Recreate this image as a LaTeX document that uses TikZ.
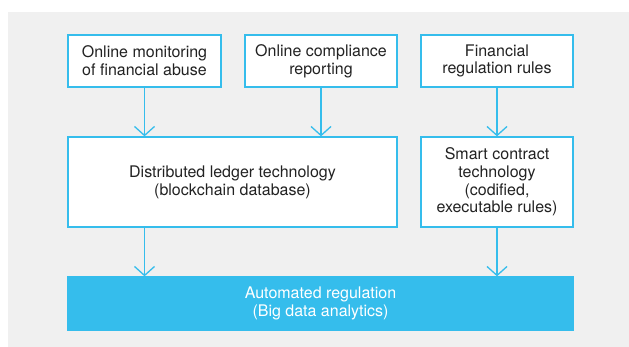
\documentclass[tikz,border=0pt]{standalone}
\usepackage{fontspec}
\setmainfont{TeX Gyre Heros}
\usetikzlibrary{arrows.meta}

\definecolor{regblue}{HTML}{35BDEC}
\definecolor{bggray}{HTML}{F0F0F0}
\definecolor{txtgray}{HTML}{222222}

\tikzset{
  regbox/.style = {draw = regblue, line width = 1.3pt, fill = white,
                   text = txtgray, align = center, inner sep = 0pt,
                   font = \fontsize{16}{17.8}\selectfont},
  regarrow/.style = {draw = regblue, line width = 1.3pt,
                     -{Straight Barb[length = 9pt, width = 20pt]}}
}

\begin{document}
\begin{tikzpicture}[x = 1pt, y = -1pt]
        \useasboundingbox (0,0) rectangle (629,347);
        \fill[white] (0,0) rectangle (629,347);
        \fill[bggray] (8,12) rectangle (629,347);

        \node[regbox, minimum width = 153pt, minimum height = 52pt] (monitor) at (144.5,61)
             {Online monitoring\\of financial abuse};
        \node[regbox, minimum width = 152pt, minimum height = 52pt] (report) at (321,61)
             {Online compliance\\reporting};
        \node[regbox, minimum width = 152pt, minimum height = 52pt] (rules) at (497,61)
             {Financial\\regulation rules};

        \node[regbox, minimum width = 329pt, minimum height = 90pt] (ledger) at (232.5,182)
             {Distributed ledger technology\\(blockchain database)};
        \node[regbox, minimum width = 152pt, minimum height = 90pt] (smart) at (497,182)
             {Smart contract\\technology\\(codified,\\executable rules)};

        \node[regbox, fill = regblue, text = white, minimum width = 505pt,
              minimum height = 53pt] (auto) at (320.5,303.5)
             {Automated regulation\\(Big data analytics)};

        \draw[regarrow] (monitor.south) -- (monitor.south |- ledger.north);
        \draw[regarrow] (report.south) -- (report.south |- ledger.north);
        \draw[regarrow] (rules.south) -- (smart.north);
        \draw[regarrow] (ledger.south -| monitor.south) -- (auto.north -| monitor.south);
        \draw[regarrow] (smart.south) -- (auto.north -| smart.south);
\end{tikzpicture}
\end{document}
